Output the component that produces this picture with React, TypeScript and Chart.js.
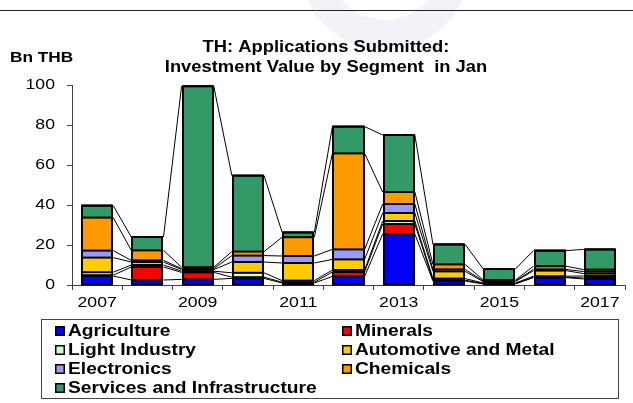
import React, { useEffect, useRef } from "react";
import { Chart, registerables } from "chart.js";

Chart.register(...registerables);

const years = ["2007", "2008", "2009", "2010", "2011", "2012", "2013", "2014", "2015", "2016", "2017"];
const yTicks = [0, 20, 40, 60, 80, 100];

const agriculture = [4.5, 2.5, 2.8, 3.3, 1.0, 4.3, 25.5, 2.0, 0.5, 3.7, 3.0];
const minerals = [0.4, 6.5, 3.5, 0.6, 0.4, 2.2, 5.0, 0.4, 0.2, 0.2, 0.5];
const lightIndustry = [1.5, 1.0, 0.6, 2.2, 0.8, 1.0, 1.5, 0.8, 0.3, 0.5, 1.0];
const automotiveMetal = [7.3, 1.5, 0.8, 5.4, 8.8, 5.3, 4.0, 3.6, 0.7, 2.8, 1.2];
const electronics = [3.5, 0.8, 0.5, 3.2, 3.5, 5.0, 4.5, 1.0, 0.3, 0.6, 1.0];
const chemicals = [16.5, 5.0, 0.7, 2.0, 9.4, 48.0, 6.0, 2.5, 0.5, 1.6, 1.0];
const servicesInfra = [6.0, 6.7, 90.5, 38.0, 2.4, 13.4, 28.5, 10.0, 5.5, 7.8, 10.1];

const seriesNames = [
  "Agriculture",
  "Minerals",
  "Light Industry",
  "Automotive and Metal",
  "Electronics",
  "Chemicals",
  "Services and Infrastructure",
];
const seriesValues = [agriculture, minerals, lightIndustry, automotiveMetal, electronics, chemicals, servicesInfra];
const seriesColors = ["#0000FF", "#FF0000", "#CCFFCC", "#FFCC00", "#9999FF", "#FF9900", "#339966"];

const titleLines = ["TH: Applications Submitted:", "Investment Value by Segment  in Jan"];
const unitLabel = "Bn THB";

const FONT = '"Liberation Sans", Arial, Helvetica, sans-serif';

function drawText(
  ctx: CanvasRenderingContext2D,
  text: string,
  x: number,
  y: number,
  align: CanvasTextAlign,
  font: string,
  sx: number
) {
  ctx.save();
  ctx.translate(x, y);
  ctx.scale(sx, 1);
  ctx.font = font;
  ctx.fillStyle = "#000";
  ctx.textAlign = align;
  ctx.textBaseline = "middle";
  ctx.fillText(text, 0, 0);
  ctx.restore();
}

const decorPlugin = {
  id: "decor",
  beforeDraw(chart: any) {
    const ctx = chart.ctx as CanvasRenderingContext2D;
    ctx.save();
    ctx.fillStyle = "#fff";
    ctx.fillRect(0, 0, chart.width, chart.height);
    // faint watermark swoosh
    ctx.strokeStyle = "#F2F3F9";
    ctx.lineWidth = 30;
    ctx.beginPath();
    ctx.arc(385, -35, 70, 0.08 * Math.PI, 0.92 * Math.PI);
    ctx.stroke();
    // top rule
    ctx.strokeStyle = "#222";
    ctx.lineWidth = 1;
    ctx.beginPath();
    ctx.moveTo(0, 10.5);
    ctx.lineTo(chart.width, 10.5);
    ctx.stroke();
    ctx.restore();
  },
  afterDatasetsDraw(chart: any) {
    const ctx = chart.ctx as CanvasRenderingContext2D;
    const n = chart.data.labels.length;
    const metas = chart.data.datasets.map((_: any, d: number) => chart.getDatasetMeta(d));
    ctx.save();
    ctx.strokeStyle = "#000";
    ctx.lineWidth = 2;
    // segment separators (top edge of every segment)
    metas.forEach((meta: any) => {
      meta.data.forEach((el: any) => {
        const left = Math.round(el.x - el.width / 2);
        const right = Math.round(el.x + el.width / 2);
        ctx.beginPath();
        ctx.moveTo(left, el.y);
        ctx.lineTo(right, el.y);
        ctx.stroke();
      });
    });
    // outer outline of each stacked column
    for (let i = 0; i < n; i++) {
      const first: any = metas[0].data[i];
      const last: any = metas[metas.length - 1].data[i];
      const left = Math.round(first.x - first.width / 2);
      const right = Math.round(first.x + first.width / 2);
      const top = last.y;
      const bottom = first.base;
      ctx.strokeRect(left, top, right - left, bottom - top);
    }
    // series lines
    ctx.lineWidth = 1;
    metas.forEach((meta: any) => {
      for (let i = 0; i < meta.data.length - 1; i++) {
        const a: any = meta.data[i];
        const b: any = meta.data[i + 1];
        ctx.beginPath();
        ctx.moveTo(a.x + a.width / 2 + 1, a.y);
        ctx.lineTo(b.x - b.width / 2 - 1, b.y);
        ctx.stroke();
      }
    });
    ctx.restore();
  },
  afterDraw(chart: any) {
    const ctx = chart.ctx as CanvasRenderingContext2D;
    const area = chart.chartArea;
    const xs = chart.scales.x;
    const ys = chart.scales.y;
    // title
    const cx = 326;
    drawText(ctx, titleLines[0], cx, 47.5, "center", `bold 17px ${FONT}`, 1.08);
    drawText(ctx, titleLines[1], cx, 67, "center", `bold 17px ${FONT}`, 1.08);
    drawText(ctx, unitLabel, 10, 58, "left", `bold 15px ${FONT}`, 1.15);
    // y tick labels
    yTicks.forEach((v) => {
      drawText(ctx, String(v), area.left - 17, ys.getPixelForValue(v), "right", `15.5px ${FONT}`, 1.14);
    });
    // x tick labels
    years.forEach((lab, i) => {
      if (i % 2 === 0) {
        drawText(ctx, lab, xs.getPixelForValue(i), area.bottom + 17.5, "center", `15.5px ${FONT}`, 1.14);
      }
    });
    // legend
    const L = 41.5, T = 319.5, R = 618.5, B = 398.5;
    ctx.save();
    ctx.strokeStyle = "#444";
    ctx.lineWidth = 1;
    ctx.strokeRect(L, T, R - L, B - T);
    ctx.restore();
    const colX = [55, 342];
    const rowY = [331, 350, 369, 388];
    chart.data.datasets.forEach((ds: any, i: number) => {
      const col = i === 6 ? 0 : i % 2;
      const row = Math.floor(i / 2);
      const x = colX[col];
      const y = rowY[row];
      ctx.save();
      ctx.fillStyle = ds.backgroundColor;
      ctx.fillRect(x, y - 5, 10, 10);
      ctx.strokeStyle = "#000";
      ctx.lineWidth = 1.5;
      ctx.strokeRect(x + 0.75, y - 4.25, 8.5, 8.5);
      ctx.restore();
      drawText(ctx, ds.label, x + 13, y + 0.5, "left", `bold 17px ${FONT}`, 1.13);
    });
  },
};

export default function App() {
  const ref = useRef<HTMLCanvasElement>(null);
  useEffect(() => {
    const chart = new Chart(ref.current as HTMLCanvasElement, {
      type: "bar",
      data: {
        labels: years,
        datasets: seriesNames.map((name, i) => ({
          label: name,
          data: seriesValues[i],
          backgroundColor: seriesColors[i],
          borderWidth: 0,
          barPercentage: 0.6,
          categoryPercentage: 1,
        })),
      },
      options: {
        responsive: false,
        animation: false,
        devicePixelRatio: 1,
        layout: { padding: { left: 67, right: 8, top: 85, bottom: 113 } },
        plugins: {
          legend: { display: false },
          title: { display: false },
          tooltip: { enabled: false },
        },
        scales: {
          x: {
            stacked: true,
            offset: true,
            grid: { display: true, drawOnChartArea: false, drawTicks: true, tickLength: 5, color: "#404040", offset: true },
            border: { display: true, color: "#404040", width: 1 },
            ticks: { display: false },
          },
          y: {
            stacked: true,
            min: 0,
            max: 100,
            grid: { display: true, drawOnChartArea: false, drawTicks: true, tickLength: 5, color: "#404040" },
            border: { display: true, color: "#404040", width: 1 },
            ticks: { display: false, stepSize: 20 },
          },
        },
      },
      plugins: [decorPlugin],
    } as any);
    return () => chart.destroy();
  }, []);
  return (
    <div style={{ position: "absolute", left: 0, top: 0, width: 633, height: 403, background: "#fff" }}>
      <canvas ref={ref} width={633} height={403} style={{ display: "block", width: 633, height: 403 }} />
    </div>
  );
}
